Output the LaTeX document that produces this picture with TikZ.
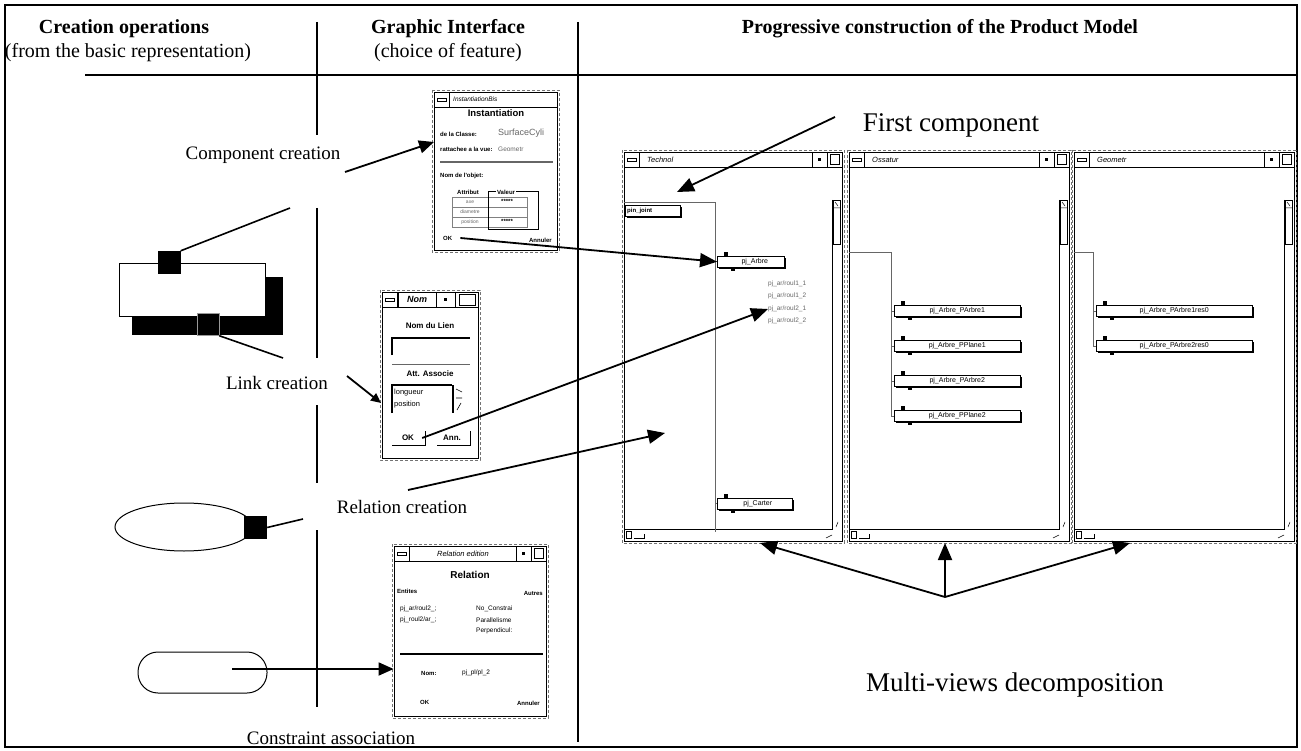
\documentclass[tikz,border=0pt]{standalone}
\usepackage{fontspec}
\setmainfont{Liberation Serif}
\newfontfamily\uisans{Liberation Sans}
\usetikzlibrary{arrows.meta,shadows,fit,shapes.geometric}
\tikzset{
 frame/.style={line width=2.2pt},
 sepline/.style={line width=2pt},
 hdr/.style={font=\bfseries\fontsize{20}{22}\selectfont, inner sep=0pt},
 sub/.style={font=\fontsize{20}{22}\selectfont, inner sep=0pt},
 lbl/.style={font=\fontsize{19}{21}\selectfont, fill=white, inner sep=1pt},
 big/.style={font=\fontsize{27}{30}\selectfont, inner sep=0pt},
 arr/.style={line width=1.8pt, -{Triangle[length=17pt,width=14pt]}},
 marr/.style={line width=1.8pt, -{Triangle[length=15pt,width=13pt]}},
 sarr/.style={line width=1.8pt, -{Triangle[length=10pt,width=9pt]}},
 wline/.style={line width=1.6pt},
 win/.style={draw, line width=0.8pt, inner sep=0pt},
 ui/.style={font=\uisans\fontsize{6.5}{7}\selectfont, inner sep=0pt},
 uib/.style={font=\uisans\bfseries\fontsize{6}{7}\selectfont, inner sep=0pt},
 uig/.style={font=\uisans\fontsize{6.5}{7}\selectfont, inner sep=0pt, text=black!60},
 uibox/.style={draw, fill=white, line width=0.5pt, inner sep=0pt, minimum height=11pt,
   font=\uisans\fontsize{7}{8}\selectfont,
   general shadow={fill=black, shadow xshift=2pt, shadow yshift=-2pt}},
 tree/.style={black!60, line width=0.6pt},
 blk/.style={fill=black, inner sep=0pt},
}
\newcommand{\uiwin}[5]{%
  \draw[black!55, densely dashed, line width=0.5pt] (#2-2,#3-2) rectangle (#4+2,#5+2);
  \coordinate (#1-nw) at (#2,#3); \coordinate (#1-se) at (#4,#5);
  \node[win, fit=(#1-nw)(#1-se)] (#1) {};
  \draw[line width=0.7pt] (#2,#3+15) -- (#4,#3+15);
  \draw[line width=0.5pt] (#2+3,#3+6) rectangle (#2+12,#3+9);
  \draw[line width=0.7pt] (#2+15,#3) -- (#2+15,#3+15);
}
\newcommand{\uibtns}[2]{%
  \draw[line width=0.7pt] (#1-30,#2) -- (#1-30,#2+15) (#1-15,#2) -- (#1-15,#2+15);
  \fill (#1-24,#2+6) rectangle (#1-21,#2+9);
  \draw[line width=0.7pt] (#1-12,#2+2.5) rectangle (#1-3,#2+12.5);
}
\newcommand{\uiscroll}[4]{%
  \draw[line width=0.7pt] (#3-10,#2+48) -- (#3-10,#4-12) -- (#1,#4-12);
  \draw[line width=0.5pt] (#3-9,#2+48) rectangle (#3-2,#2+92);
  \draw[line width=0.5pt] (#3-9,#2+56) -- (#3-2,#2+56) (#3-7,#2+50) -- (#3-4,#2+54);
  \draw[line width=0.5pt] (#1+2,#4-10) rectangle (#1+7,#4-3);
  \draw[line width=0.7pt] (#1+10,#4-3) -- (#1+20,#4-3) -- (#1+20,#4-7);
  \draw[line width=0.5pt] (#3-16,#4-3) -- (#3-10,#4-6) (#3-6,#4-14) -- (#3-4,#4-19);
}
\newcommand{\uinode}[5]{%
  \node[uibox, minimum width={(#4-#2)*1pt}, anchor=north west] (#1) at (#2,#3) {#5};
  \fill (#2+7,#3-4) rectangle (#2+11,#3);
  \fill (#2+14,#3+11) rectangle (#2+18,#3+15);
}
\begin{document}
\begin{tikzpicture}[x=1pt,y=-1pt]
\useasboundingbox (0,0) rectangle (1301,751);
% frame and separators
\draw[frame] (5,5) rectangle (1297,747);
\draw[frame] (85,75) -- (1297,75);
\draw[sepline] (317,22) -- (317,135) (317,208) -- (317,358) (317,405) -- (317,483) (317,530) -- (317,707);
\draw[sepline] (578,22) -- (578,742);
% headers
\node[hdr] (h1) at (124,29) {Creation operations};
\node[sub] (h1b) at (128,53) {(from the basic representation)};
\node[hdr] (h2) at (448,29) {Graphic Interface};
\node[sub] (h2b) at (448,53) {(choice of feature)};
\node[hdr] (h3) at (940,29) {Progressive construction of the Product Model};

% ---- left: basic representations
\fill (132,277) rectangle (283,335);
\node[draw, fill=white, line width=1pt, minimum width=146pt, minimum height=53pt, inner sep=0pt] (comp) at (192,290.5) {};
\node[blk, minimum size=23pt] (sqA) at (169,262.5) {};
\node[blk, draw=black!40, line width=0.4pt, minimum size=22pt] (sqB) at (208,324.5) {};
\coordinate (cA) at (290,208);
\coordinate (cB) at (283,358);
\draw[wline] (sqA.north east) -- (cA);
\draw[wline] (sqB.south east) -- (cB);

\node[draw, ellipse, line width=1pt, minimum width=138pt, minimum height=48pt, inner sep=0pt] (ell) at (184,527) {};
\node[blk, minimum size=23pt] (sqC) at (255.5,527.5) {};
\coordinate (cC) at (303,519);
\draw[wline] (sqC.east) -- (cC);

\node[draw, line width=1pt, rounded corners=20pt, minimum width=129pt, minimum height=41pt, inner sep=0pt] (pill) at (202.5,672.5) {};
\coordinate (pillin) at (232,669);

% labels
\node[lbl] (lcomp) at (263,155) {Component creation};
\node[lbl] (llink) at (277,383) {Link creation};
\node[lbl] (lrel) at (402,507) {Relation creation};
\node[lbl] (lcons) at (331,738) {Constraint association};
\node[big] (lfirst) at (951,125) {First component};
\node[big] (lmulti) at (1015,685) {Multi-views decomposition};

% ---- Instantiation window
\uiwin{inst}{434}{92}{557}{250}
\node[ui, font=\uisans\itshape\fontsize{6.5}{7}\selectfont, anchor=west] at (453,99.5) {InstantiationBis};
\node[ui, font=\uisans\bfseries\fontsize{9.5}{10}\selectfont] at (496,113) {Instantiation};
\node[uib, anchor=west] at (440,134) {de la Classe:};
\node[uig, font=\uisans\fontsize{9}{10}\selectfont, anchor=west] at (498,133) {SurfaceCyli};
\node[uib, anchor=west] at (440,149) {rattachee a la vue:};
\node[uig, anchor=west] at (498,149) {Geometr};
\draw[black!60, line width=1.5pt] (440,162) -- (553,162);
\node[uib, anchor=west] at (440,176) {Nom de l'objet:};
\draw[black!50, line width=0.5pt] (452,197) rectangle (527,227) (452,207) -- (527,207) (452,217) -- (527,217);
\node[uib] at (468,192) {Attribut};
\draw[line width=1pt] (488,192) rectangle (538,230);
\node[uib, fill=white, inner sep=1pt] at (506,192) {Valeur};
\node[uig, font=\uisans\fontsize{5}{6}\selectfont] at (470,202) {axe};
\node[uig, font=\uisans\fontsize{5}{6}\selectfont] at (470,212) {diametre};
\node[uig, font=\uisans\fontsize{5}{6}\selectfont] at (470,222) {position};
\node[uib] at (507,201.5) {*****};
\node[uib] at (507,221.5) {*****};
\node[uib, anchor=west] (instok) at (443,238) {OK};
\node[uib, anchor=east] at (552,240) {Annuler};

% ---- Nom window
\uiwin{nom}{382}{292}{478}{458}
\draw[line width=0.7pt] (398,292) -- (398,307) (436,292) -- (436,307) (455,292) -- (455,307);
\node[ui, font=\uisans\bfseries\itshape\fontsize{9}{10}\selectfont] at (417,299.5) {Nom};
\fill (444,298.5) rectangle (447,301.5);
\draw[line width=0.8pt] (459,294) rectangle (475,305);
\node[ui, font=\uisans\bfseries\fontsize{8}{9}\selectfont] at (430,326) {Nom du Lien};
\draw[line width=1.2pt] (392,355) -- (392,338) -- (470,338);
\draw[black!60, line width=1pt] (392,364) -- (470,364);
\node[ui, font=\uisans\bfseries\fontsize{8}{9}\selectfont] at (430,374) {Att. Associe};
\draw[line width=1.2pt] (392,413) -- (392,385) -- (452,385);
\draw[line width=1.2pt] (453,385) -- (453,413);
\draw[line width=0.6pt] (456,389) -- (462,392) (456,398) -- (462,398) (457,410) -- (461,403);
\node[ui, font=\uisans\fontsize{7.5}{8}\selectfont, anchor=west] at (394,393) {longueur};
\node[ui, font=\uisans\fontsize{7.5}{8}\selectfont, anchor=west] at (394,405) {position};
\node[ui, font=\uisans\bfseries\fontsize{8}{9}\selectfont] (nomok) at (408,438) {OK};
\draw[line width=0.8pt] (392,445) -- (425,445) -- (425,431);
\node[ui, font=\uisans\bfseries\fontsize{8}{9}\selectfont] at (452,438) {Ann.};
\draw[line width=0.8pt] (437,445) -- (470,445) -- (470,431);

% ---- Relation edition window
\uiwin{relw}{394}{546}{546}{716}
\uibtns{546}{546}
\node[ui, font=\uisans\itshape\fontsize{7.5}{8}\selectfont] at (463,554) {Relation edition};
\node[ui, font=\uisans\bfseries\fontsize{10}{11}\selectfont] at (470,575) {Relation};
\node[uib, anchor=west] at (397,591) {Entites};
\node[uib, anchor=east] at (543,593) {Autres};
\node[ui, anchor=west] at (400,609) {pj\_ar/roul2\_;};
\node[ui, anchor=west] at (400,620) {pj\_roul2/ar\_;};
\node[ui, anchor=west] at (476,609) {No\_Constrai};
\node[ui, anchor=west] at (476,620) {Parallelisme};
\node[ui, anchor=west] at (476,631) {Perpendicul:};
\draw[line width=1.5pt] (400,654) -- (543,654);
\node[uib, anchor=west] at (421,673) {Nom:};
\node[ui, anchor=west] at (462,673) {pj\_pl/pl\_2};
\node[uib, anchor=west] at (420,702) {OK};
\node[uib, anchor=east] at (540,703) {Annuler};

% ---- Technol window
\uiwin{tech}{624}{152}{842}{541}
\uibtns{842}{152}
\uiscroll{624}{152}{842}{541}
\node[ui, font=\uisans\itshape\fontsize{7.5}{8}\selectfont, anchor=west] at (647,159.5) {Technol};
\draw[tree] (624,202) -- (715,202) -- (715,532) (715,261) -- (717,261) (715,503) -- (717,503);
\node[uibox, minimum width=55pt, anchor=north west] (pinj) at (625,205) {};
\node[uib, anchor=west] at (627,210.5) {pin\_joint};
\uinode{pjarbre}{717}{256}{784}{\hspace*{8pt}pj\_Arbre}
\uinode{pjcarter}{717}{498}{792}{\hspace*{6pt}pj\_Carter}
\node[uig, anchor=west] at (768,284) {pj\_ar/roul1\_1};
\node[uig, anchor=west] at (768,296) {pj\_ar/roul1\_2};
\node[uig, anchor=west] (r21) at (768,309) {pj\_ar/roul2\_1};
\node[uig, anchor=west] at (768,321) {pj\_ar/roul2\_2};
\coordinate (techin) at (665,433);
\coordinate (techtop) at (677,192);

% ---- Ossatur window
\uiwin{oss}{849}{152}{1069}{541}
\uibtns{1069}{152}
\uiscroll{849}{152}{1069}{541}
\node[ui, font=\uisans\itshape\fontsize{7.5}{8}\selectfont, anchor=west] at (872,159.5) {Ossatur};
\draw[tree] (849,252) -- (891,252) -- (891,416);
\foreach \yy in {311,346,381,416} \draw[tree] (891,\yy) -- (894,\yy);
\uinode{o1}{894}{305}{1020}{pj\_Arbre\_PArbre1}
\uinode{o2}{894}{340}{1020}{pj\_Arbre\_PPlane1}
\uinode{o3}{894}{375}{1020}{pj\_Arbre\_PArbre2}
\uinode{o4}{894}{410}{1020}{pj\_Arbre\_PPlane2}

% ---- Geometr window
\uiwin{geo}{1074}{152}{1294}{541}
\uibtns{1294}{152}
\uiscroll{1074}{152}{1294}{541}
\node[ui, font=\uisans\itshape\fontsize{7.5}{8}\selectfont, anchor=west] at (1097,159.5) {Geometr};
\draw[tree] (1074,252) -- (1093,252) -- (1093,346);
\foreach \yy in {311,346} \draw[tree] (1093,\yy) -- (1096,\yy);
\uinode{g1}{1096}{305}{1252}{pj\_Arbre\_PArbre1res0}
\uinode{g2}{1096}{340}{1252}{pj\_Arbre\_PArbre2res0}

% ---- connectors
\coordinate (compst) at (345,172);
\coordinate (insttip) at (434,142);
\draw[marr] (compst) -- (insttip);
\coordinate (linkst) at (347,376);
\coordinate (nomtip) at (381,403);
\draw[sarr] (linkst) -- (nomtip);
\draw[arr] (instok.east) ++(8,0) -- (pjarbre.west);
\draw[arr] (nomok.east) ++(8,0) -- (r21.west);
\coordinate (relst) at (408,490);
\draw[arr] (relst) -- (techin);
\draw[marr] (pillin) -- (pillin -| relw.west);
\coordinate (firstst) at (835,117);
\draw[arr] (firstst) -- (techtop);
\coordinate (mv) at (945,597);
\draw[arr] (mv) -- (760,543);
\draw[arr] (mv) -- (945,543);
\draw[arr] (mv) -- (1130,543);
\end{tikzpicture}
\end{document}
